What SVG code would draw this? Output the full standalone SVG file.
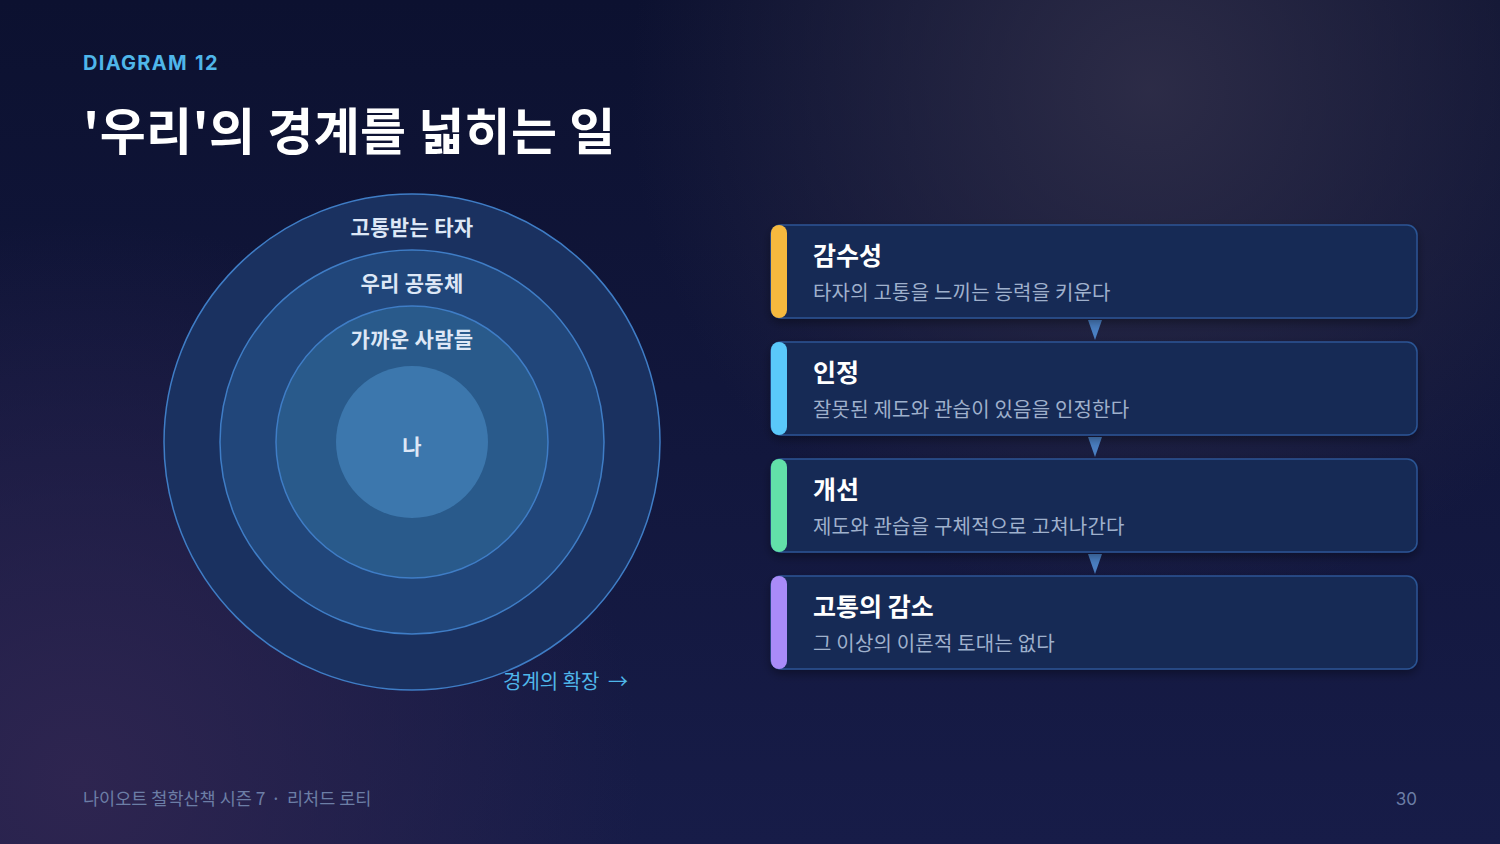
<svg xmlns="http://www.w3.org/2000/svg" width="1500" height="844" viewBox="0 0 1500 844">
<defs>
<radialGradient id="glowTR" cx="1150" cy="90" r="520" gradientUnits="userSpaceOnUse">
<stop offset="0" stop-color="#2e2d48" stop-opacity="0.95"/>
<stop offset="1" stop-color="#2e2d48" stop-opacity="0"/>
</radialGradient>
<radialGradient id="glowBL" cx="80" cy="780" r="560" gradientUnits="userSpaceOnUse">
<stop offset="0" stop-color="#2e2550" stop-opacity="1"/>
<stop offset="1" stop-color="#2e2550" stop-opacity="0"/>
</radialGradient>
<linearGradient id="base" x1="0" y1="0" x2="0" y2="1">
<stop offset="0" stop-color="#0c1130"/>
<stop offset="1" stop-color="#171c48"/>
</linearGradient>
<filter id="shadow" x="-10%" y="-20%" width="120%" height="150%">
<feDropShadow dx="0" dy="4" stdDeviation="5" flood-color="#000" flood-opacity="0.35"/>
</filter>
</defs>
<style>
.kr{font-family:"Noto Sans CJK KR","Noto Sans",sans-serif}
.ring{stroke:#3f7dc6;stroke-width:1.5}
.rl{font-family:"Noto Sans CJK KR",sans-serif;font-weight:700;font-size:21px;letter-spacing:0.3px;fill:#dde7f6;text-anchor:middle}
.card{fill:#162b55;stroke:#2c5595;stroke-width:1.5}
.ttl{font-family:"Noto Sans CJK KR",sans-serif;font-weight:700;font-size:25px;fill:#ffffff}
.sub{font-family:"Noto Sans CJK KR",sans-serif;font-weight:400;font-size:20px;letter-spacing:0.2px;fill:#9fb0cc}
.arr{fill:#4a7fc2}
.lat{font-family:Inter,"Noto Sans",sans-serif}
</style>
<rect width="1500" height="844" fill="url(#base)"/>
<rect width="1500" height="844" fill="url(#glowTR)"/>
<rect width="1500" height="844" fill="url(#glowBL)"/>

<text y="70" class="lat" font-weight="700" font-size="20" letter-spacing="1.3" fill="#4fb6ea"><tspan x="83">DIAGRAM</tspan><tspan x="195">12</tspan></text>
<text x="83" y="150" class="kr" font-weight="700" font-size="50" letter-spacing="0.4" fill="#ffffff">'우리'의 경계를 넓히는 일</text>

<g id="ring-outer">
<circle cx="412" cy="442" r="248" fill="#1a3160" class="ring"/>
<text x="412" y="235" class="rl">고통받는 타자</text>
</g>
<g id="ring-community">
<circle cx="412" cy="442" r="192" fill="#21467a" class="ring"/>
<text x="412" y="291" class="rl">우리 공동체</text>
</g>
<g id="ring-close">
<circle cx="412" cy="442" r="136" fill="#295a8b" class="ring"/>
<text x="412" y="347" class="rl">가까운 사람들</text>
</g>
<g id="ring-me">
<circle cx="412" cy="442" r="76" fill="#3c77ad"/>
<text x="412" y="454" class="rl">나</text>
</g>
<text y="689" class="kr" font-size="20" fill="#4fb6ea"><tspan x="503">경계의 확장</tspan><tspan x="608">→</tspan></text>

<g id="connectors">
<polygon class="arr" points="1088,320 1102,320 1095,340"/>
<polygon class="arr" points="1088,437 1102,437 1095,457"/>
<polygon class="arr" points="1088,554 1102,554 1095,574"/>
</g>

<g id="card-1">
<rect x="771" y="225" width="646" height="93" rx="10" class="card" filter="url(#shadow)"/>
<rect x="771" y="225" width="16" height="93" rx="8" fill="#f6b93e"/>
<text x="813" y="265" class="ttl">감수성</text>
<text x="813" y="300" class="sub">타자의 고통을 느끼는 능력을 키운다</text>
</g>
<g id="card-2">
<rect x="771" y="342" width="646" height="93" rx="10" class="card" filter="url(#shadow)"/>
<rect x="771" y="342" width="16" height="93" rx="8" fill="#5ac8fa"/>
<text x="813" y="382" class="ttl">인정</text>
<text x="813" y="417" class="sub">잘못된 제도와 관습이 있음을 인정한다</text>
</g>
<g id="card-3">
<rect x="771" y="459" width="646" height="93" rx="10" class="card" filter="url(#shadow)"/>
<rect x="771" y="459" width="16" height="93" rx="8" fill="#62e0a9"/>
<text x="813" y="499" class="ttl">개선</text>
<text x="813" y="534" class="sub">제도와 관습을 구체적으로 고쳐나간다</text>
</g>
<g id="card-4">
<rect x="771" y="576" width="646" height="93" rx="10" class="card" filter="url(#shadow)"/>
<rect x="771" y="576" width="16" height="93" rx="8" fill="#a98bf8"/>
<text x="813" y="616" class="ttl">고통의 감소</text>
<text x="813" y="651" class="sub">그 이상의 이론적 토대는 없다</text>
</g>

<text y="805" class="kr" font-size="17.5" fill="#6c7ea6"><tspan x="83">나이오트 철학산책 시즌 7</tspan><tspan x="271">·</tspan><tspan x="287">리처드 로티</tspan></text>
<text x="1417" y="805" class="lat" font-size="17" fill="#6c7ea6" text-anchor="end">30</text>
</svg>
